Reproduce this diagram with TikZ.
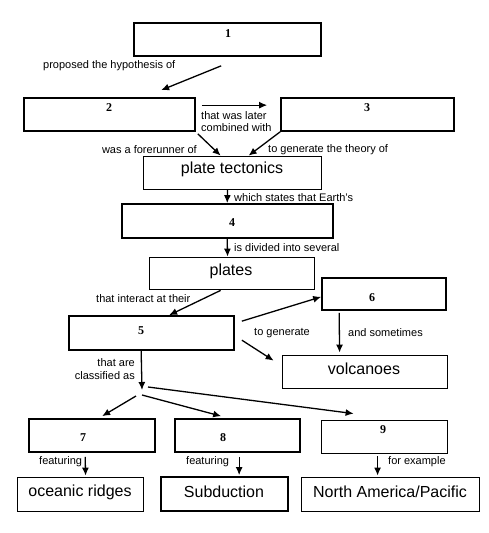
\documentclass[tikz,border=0pt]{standalone}
\usepackage{fontspec}
\setmainfont{Liberation Sans}
\newfontfamily\numfont{Liberation Serif}
\usetikzlibrary{arrows.meta,calc}
\begin{document}
\begin{tikzpicture}[x=1pt,y=-1pt,
  numbox/.style={draw,line width=1.7pt,inner sep=0pt},
  txtbox/.style={draw,line width=0.8pt,inner sep=0pt,font=\fontsize{16}{18}\selectfont},
  thickbox/.style={draw,line width=1.7pt,inner sep=0pt,font=\fontsize{16}{18}\selectfont},
  num/.style={font=\numfont\bfseries\fontsize{12}{13}\selectfont,inner sep=0pt},
  lab/.style={font=\fontsize{11}{12}\selectfont,inner sep=0pt},
  big/.style={font=\fontsize{16}{18}\selectfont,inner sep=0pt},
  arr/.style={line width=1.3pt,-{Latex[length=8pt,width=7pt]}}]
\useasboundingbox[fill=white] (0,0) rectangle (488,533);
% boxes
\node[numbox,minimum width=187pt,minimum height=33pt] (n1) at (227.5,39.5) {};
\node[numbox,minimum width=171pt,minimum height=33pt] (n2) at (109.5,114.5) {};
\node[numbox,minimum width=173pt,minimum height=33pt] (n3) at (367.5,114.5) {};
\node[txtbox,minimum width=178pt,minimum height=33pt] (pt) at (232,172.5) {};
\node[numbox,minimum width=211pt,minimum height=34pt] (n4) at (227.5,221) {};
\node[txtbox,minimum width=165pt,minimum height=32pt] (pl) at (231.5,273) {};
\node[numbox,minimum width=124pt,minimum height=32pt] (n6) at (384,294) {};
\node[numbox,minimum width=165pt,minimum height=34pt] (n5) at (151.5,333) {};
\node[txtbox,minimum width=165pt,minimum height=33pt] (vo) at (364.5,371.5) {};
\node[numbox,minimum width=126pt,minimum height=33pt] (n7) at (92,435.5) {};
\node[numbox,minimum width=125pt,minimum height=33pt] (n8) at (237.5,435.5) {};
\node[txtbox,minimum width=126pt,minimum height=33pt] (n9) at (384,436.5) {};
\node[txtbox,minimum width=126pt,minimum height=34pt] (or) at (80,494) {};
\node[thickbox,minimum width=127pt,minimum height=34pt] (sb) at (224.5,494) {};
\node[txtbox,minimum width=178pt,minimum height=34pt] (na) at (390,494) {};
% texts in boxes
\node[num] (t1) at (228,34) {1};
\node[num] (t2) at (109,108) {2};
\node[num] (t3) at (367,108) {3};
\node[num] (t4) at (232,223) {4};
\node[num] (t6) at (372,298) {6};
\node[num] (t5) at (141,331) {5};
\node[num] (t7) at (83,438) {7};
\node[num] (t8) at (223,438) {8};
\node[num] (t9) at (383,430) {9};
\node[big] (tpt) at (232,169) {plate tectonics};
\node[big] (tpl) at (231,271) {plates};
\node[big] (tvo) at (364,369) {volcanoes};
\node[big] (tor) at (80,492) {oceanic ridges};
\node[big] (tsb) at (224,492) {Subduction};
\node[big] (tna) at (390,492) {North America/Pacific};
% branch point
\coordinate (br) at (142,390);
% arrows
\draw[arr] ($(n1.south west)+(88,9)$) -- ($(n2.north west)+(138,-7)$);
\draw[arr] ($(n2.north east)+(6,8)$) -- ($(n3.north west)+(-13,8)$);
\draw[arr] ($(n2.south east)+(2,2)$) -- ($(pt.north west)+(78,0)$);
\draw[arr] (n3.south west) -- ($(pt.north west)+(106,0)$);
\draw[arr] ($(pt.south west)+(85,0)$) -- ($(n4.north west)+(106,0)$);
\draw[arr] ($(n4.south west)+(106,0)$) -- ($(pl.north west)+(79,0)$);
\draw[arr] ($(pl.south west)+(72,1)$) -- ($(n5.north west)+(101,0)$);
\draw[arr] ($(n5.north east)+(7,6)$) -- ($(n6.south west)+(0,-14)$);
\draw[arr] ($(n5.north east)+(7,25)$) -- ($(vo.north west)+(-8,6)$);
\draw[arr] ($(n6.south west)+(18,2)$) -- ($(vo.north west)+(58,-2)$);
\draw[arr] ($(n5.south west)+(73,0)$) -- (br);
\draw[arr] ($(br)+(-6,6)$) -- ($(n7.north west)+(74,-2)$);
\draw[arr] ($(br)+(0,5)$) -- ($(n8.north west)+(47,-2)$);
\draw[arr] ($(br)+(6,-3)$) -- ($(n9.north west)+(33,-6)$);
\draw[arr] ($(n7.south west)+(57,4)$) -- ($(or.north west)+(69,-1)$);
\draw[arr] ($(n8.south west)+(65,4)$) -- ($(sb.north west)+(79,-1)$);
\draw[arr] ($(n9.south west)+(57,3)$) -- ($(na.north west)+(77,-1)$);
% labels
\node[lab,anchor=west] (l1) at (43,66) {proposed the hypothesis of};
\node[lab,anchor=west] (l2a) at (201,116) {that was later};
\node[lab,anchor=west] (l2b) at (201,128) {combined with};
\node[lab,anchor=east] (l3) at (197,150) {was a forerunner of};
\node[lab,anchor=west] (l4) at (268,150) {to generate the theory of};
\node[lab,anchor=west] (l5) at (234,198) {which states that Earth's};
\node[lab,anchor=west] (l6) at (234,248) {is divided into several};
\node[lab,anchor=west] (l7) at (96,299) {that interact at their};
\node[lab,anchor=west] (l8) at (254,333) {to generate};
\node[lab,anchor=west] (l9) at (348,333) {and sometimes};
\node[lab,anchor=east] (l10a) at (135,363) {that are};
\node[lab,anchor=east] (l10b) at (135,376) {classified as};
\node[lab,anchor=west] (l11) at (39,462) {featuring};
\node[lab,anchor=west] (l12) at (186,462) {featuring};
\node[lab,anchor=west] (l13) at (388,462) {for example};
\end{tikzpicture}
\end{document}
